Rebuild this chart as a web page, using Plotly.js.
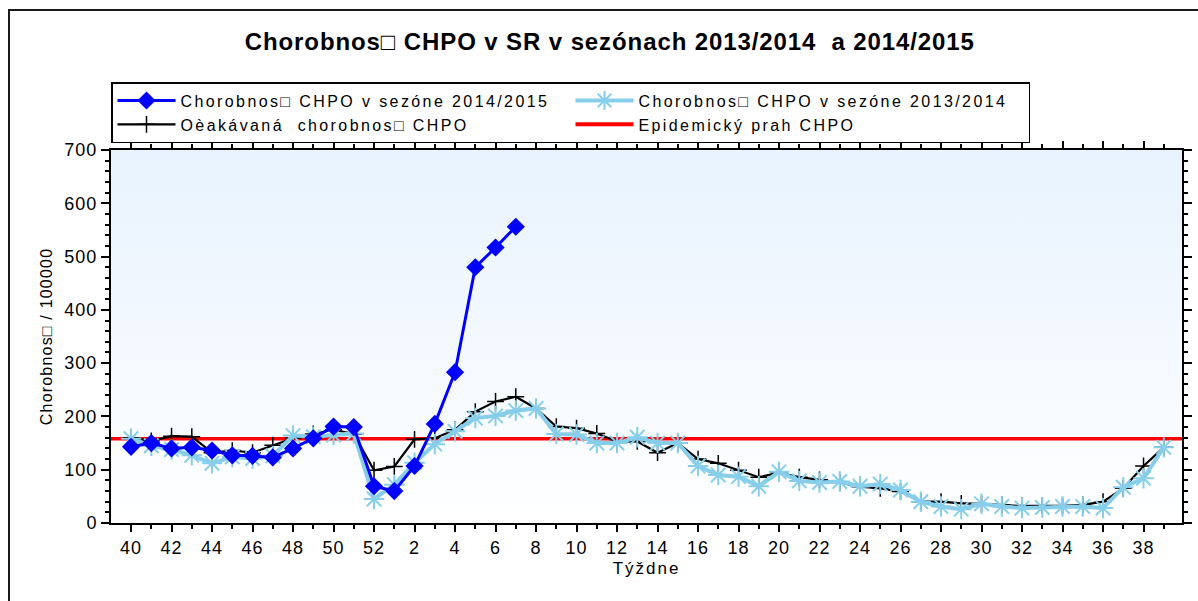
<!DOCTYPE html>
<html>
<head>
<meta charset="utf-8">
<script src="https://cdn.plot.ly/plotly-3.0.1.min.js"></script>
<style>
  html, body { margin:0; padding:0; background:#ffffff; overflow:hidden; }
  #frame { position:absolute; left:8px; top:9px; width:1400px; height:800px; border:2px solid #1a1a1a; }
  #grad { position:absolute; left:111px; top:150px; width:1071px; height:373px;
          background: linear-gradient(to bottom, #e8f3fe 0%, #f4f9ff 55%, #ffffff 100%); }
  #chart { position:absolute; left:0; top:0; width:1198px; height:601px; }
  #chart .legendtext { letter-spacing: 2.4px; }
  #chart .xtick text, #chart .ytick text { letter-spacing: 1px; }
  #chart .gtitle { letter-spacing: 0.9px; }
  #chart .ytitle { letter-spacing: 1.2px; }
  #chart .xtitle { letter-spacing: 2px; }
</style>
</head>
<body>
<div id="frame"></div>
<div id="grad"></div>
<div id="chart"></div>
<script>
// Week labels (season runs week 40 .. week 39)
const weeks = ['40','41','42','43','44','45','46','47','48','49','50','51','52',
  '1','2','3','4','5','6','7','8','9','10','11','12','13','14','15','16','17','18','19','20',
  '21','22','23','24','25','26','27','28','29','30','31','32','33','34','35','36','37','38','39'];

// Chorobnosť CHPO v sezóne 2014/2015 (weeks 40 .. 7)
const season2014_15 = [143,150,140,142,136,127,126,123,140,159,181,180,69,60,107,186,283,480,517,556];

// Chorobnosť CHPO v sezóne 2013/2014
const season2013_14 = [158,145,138,127,112,124,121,126,164,162,165,168,45,72,113,148,172,197,201,211,
  215,167,166,150,150,161,150,150,107,90,87,69,96,79,76,78,69,73,62,40,
  31,26,36,31,28,29,31,31,28,67,84,142];

// Očakávaná chorobnosť CHPO
const expected = [160,154,163,162,132,136,132,146,159,167,175,167,99,106,157,159,175,209,228,237,
  215,181,178,168,153,153,132,150,120,112,99,86,94,86,81,76,68,65,59,40,
  40,37,36,34,32,32,32,34,40,65,107,142];

// Epidemický prah CHPO
const threshold = 158;

const xIdx = weeks.map((w, i) => i);
const tickIdx = xIdx.filter(i => i % 2 === 0);
const tickText = tickIdx.map(i => weeks[i]);

const FONT = 'Liberation Sans, Arial, sans-serif';

const traces = [
  {
    name: 'Oèakávaná  chorobnos\u25A1 CHPO',
    x: xIdx, y: expected,
    mode: 'lines+markers',
    line: {color:'#000000', width:2.2},
    marker: {symbol:'cross-thin', size:12, line:{color:'#000000', width:1.5}},
    legendrank: 3
  },
  {
    name: 'Chorobnos\u25A1 CHPO v sezóne 2013/2014',
    x: xIdx, y: season2013_14,
    mode: 'lines+markers',
    line: {color:'#87ceeb', width:4},
    marker: {symbol:'asterisk', size:17, color:'#87ceeb', line:{color:'#87ceeb', width:2}},
    legendrank: 2
  },
  {
    name: 'Chorobnos\u25A1 CHPO v sezóne 2014/2015',
    x: xIdx.slice(0, season2014_15.length), y: season2014_15,
    mode: 'lines+markers',
    line: {color:'#0000ff', width:3},
    marker: {symbol:'diamond', size:14, color:'#0000ff'},
    legendrank: 1
  },
  {
    name: 'Epidemický prah CHPO',
    x: [null], y: [null],
    mode: 'lines',
    line: {color:'#ff0000', width:4},
    legendrank: 4
  }
];

const layout = {
  width: 1198, height: 601,
  margin: {l:111, r:16, t:150, b:78},
  paper_bgcolor: 'rgba(0,0,0,0)',
  plot_bgcolor: 'rgba(0,0,0,0)',
  font: {family: FONT, size: 16, color:'#000000'},
  title: {
    text: '<b>Chorobnos\u25A1 CHPO v SR v sezónach 2013/2014  a 2014/2015</b>',
    font: {family: FONT, size: 24, color:'#000000'},
    x: 0.509, xref: 'container', xanchor: 'center',
    y: 0.93, yref: 'container', yanchor: 'middle'
  },
  showlegend: true,
  legend: {
    orientation: 'h',
    x: 0, xanchor: 'left', y: 1.182, yanchor: 'top',
    bordercolor: '#000000', borderwidth: 1.5,
    bgcolor: 'rgba(255,255,255,1)',
    font: {family: FONT, size: 16, color:'#000000'},
    entrywidth: 385,
    itemwidth: 58,
    tracegroupgap: 0
  },
  xaxis: {
    range: [-0.99, 51.9],
    tickmode: 'array', tickvals: tickIdx, ticktext: tickText,
    ticks: 'outside', ticklen: 7, tickwidth: 2, tickcolor:'#000000',
    minor: {ticks:'outside', dtick:1, tick0:0, ticklen:4, tickwidth:2, tickcolor:'#000000', showgrid:false},
    showline: true, linecolor:'#000000', linewidth: 2, mirror: 'ticks',
    showgrid: false, zeroline: false,
    tickfont: {family: FONT, size: 18, color:'#000000'},
    title: {text:'Týždne', font:{family: FONT, size:17, color:'#000000'}, standoff: 6}
  },
  yaxis: {
    range: [0, 700],
    dtick: 100, tick0: 0,
    ticks: 'outside', ticklen: 8, tickwidth: 2, tickcolor:'#000000',
    minor: {ticks:'outside', dtick:20, tick0:0, ticklen:4, tickwidth:2, tickcolor:'#000000', showgrid:false},
    showline: true, linecolor:'#000000', linewidth: 2, mirror: 'ticks',
    showgrid: false, zeroline: false,
    tickfont: {family: FONT, size: 18, color:'#000000'},
    title: {text:'Chorobnos\u25A1 / 100000', font:{family: FONT, size:16, color:'#000000'}, standoff: 11}
  },
  shapes: [
    {type:'line', xref:'paper', x0:0, x1:1, yref:'y', y0:threshold, y1:threshold,
     line:{color:'#ff0000', width:3.5}, layer:'below'}
  ]
};

Plotly.newPlot('chart', traces, layout, {displayModeBar:false, staticPlot:true});
</script>
</body>
</html>
